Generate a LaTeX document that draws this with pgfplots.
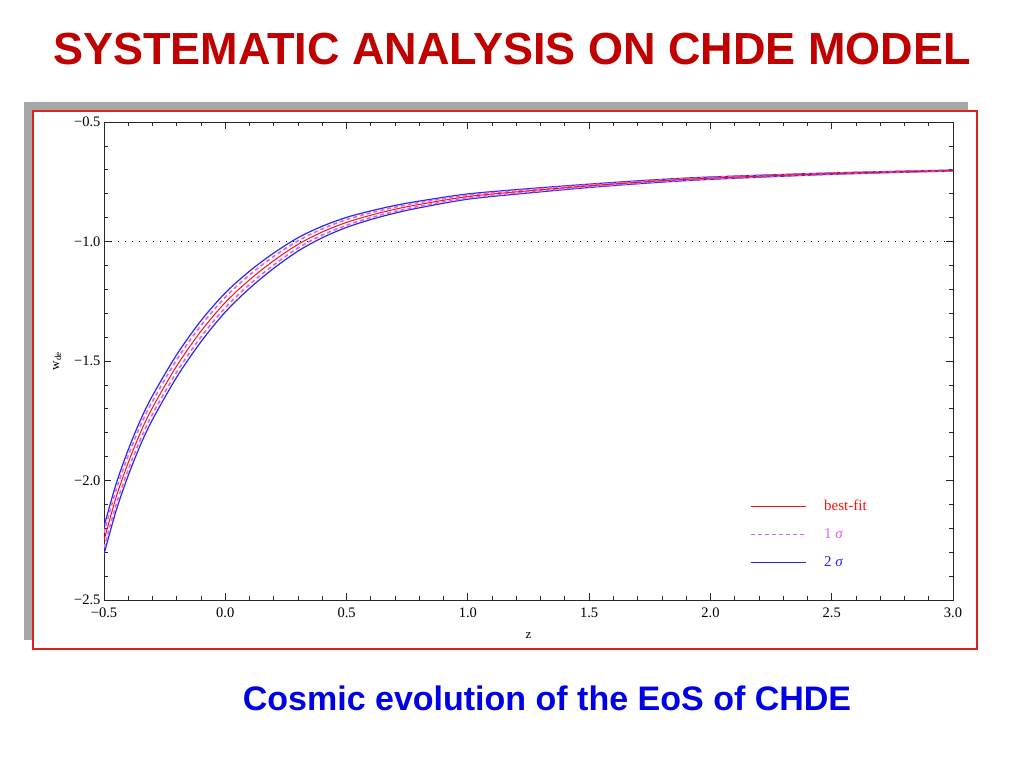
\documentclass[border=0pt]{standalone}
\usepackage{pgfplots}
\pgfplotsset{compat=1.18}
\usepackage{pgfplotstable}
\usepackage{fontspec}
\setmainfont{Liberation Serif}
\newfontfamily\arial{Liberation Sans}

\definecolor{titlered}{HTML}{C00000}
\definecolor{capblue}{HTML}{0000E6}
\definecolor{framered}{HTML}{E02020}
\definecolor{shadowgray}{HTML}{A6A6A6}
\definecolor{bestred}{HTML}{FF1010}
\definecolor{sigone}{HTML}{E060F0}
\definecolor{sigtwo}{HTML}{2828F0}

% w_de(z): best fit, 1 sigma and 2 sigma bounds
\pgfplotstableread{
z     b      u1     l1     u2     l2
-0.5  -2.250 -2.218 -2.282 -2.192 -2.308
-0.45 -2.070 -2.039 -2.101 -2.014 -2.126
-0.4  -1.925 -1.895 -1.955 -1.871 -1.979
-0.35 -1.800 -1.771 -1.829 -1.748 -1.852
-0.3  -1.695 -1.668 -1.722 -1.645 -1.745
-0.2  -1.520 -1.494 -1.546 -1.473 -1.567
-0.1  -1.375 -1.351 -1.399 -1.331 -1.419
0.0   -1.255 -1.233 -1.277 -1.215 -1.295
0.1   -1.160 -1.140 -1.180 -1.124 -1.196
0.2   -1.080 -1.062 -1.098 -1.048 -1.112
0.3   -1.012 -0.997 -1.027 -0.984 -1.040
0.4   -0.960 -0.947 -0.973 -0.936 -0.984
0.5   -0.920 -0.908 -0.932 -0.899 -0.941
0.6   -0.890 -0.880 -0.900 -0.872 -0.908
0.7   -0.865 -0.856 -0.874 -0.849 -0.881
0.8   -0.845 -0.837 -0.853 -0.831 -0.859
1.0   -0.812 -0.806 -0.818 -0.801 -0.823
1.25  -0.788 -0.783 -0.793 -0.779 -0.797
1.5   -0.767 -0.763 -0.771 -0.760 -0.774
1.75  -0.749 -0.746 -0.752 -0.743 -0.755
2.0   -0.735 -0.732 -0.738 -0.730 -0.740
2.5   -0.716 -0.714 -0.718 -0.713 -0.719
3.0   -0.703 -0.702 -0.704 -0.701 -0.705
}\wdata

\begin{document}
\begin{tikzpicture}
\path[use as bounding box, fill=white] (0pt,0pt) rectangle (1024pt,-768pt);

\node[anchor=base, text=titlered, font=\arial\bfseries\fontsize{45}{50}\selectfont]
  at (512pt,-64pt) {SYSTEMATIC ANALYSIS ON CHDE MODEL};

% framed panel with shadow
\fill[shadowgray] (24pt,-102pt) rectangle (968pt,-640pt);
\filldraw[fill=white, draw=framered, line width=1.3pt] (33pt,-111pt) rectangle (977pt,-649pt);

\begin{axis}[
    at={(104pt,-600pt)}, anchor=south west,
    scale only axis,
    width=849pt, height=478pt,
    xmin=-0.5, xmax=3, ymin=-2.5, ymax=-0.5,
    xtick={-0.5,0,0.5,1,1.5,2,2.5,3},
    xticklabels={−0.5,0.0,0.5,1.0,1.5,2.0,2.5,3.0},
    ytick={-2.5,-2,-1.5,-1,-0.5},
    yticklabels={−2.5,−2.0,−1.5,−1.0,−0.5},
    minor tick num=4,
    tick align=inside,
    major tick length=7pt, minor tick length=4pt,
    axis line style={black!85, line width=1pt},
    tick style={black!85, line width=0.8pt},
    ticklabel style={font=\fontsize{14.5}{16}\selectfont},
    xticklabel style={yshift=-4pt},
    xlabel={z}, ylabel={w\textsubscript{de}},
    label style={font=\fontsize{13}{15}\selectfont},
    xlabel style={yshift=-8pt},
    ylabel style={yshift=6pt},
    legend cell align=left,
    legend image code/.code={\draw[#1] (0pt,0pt) -- (55pt,0pt);},
    legend style={at={(0.757,0.218)}, anchor=north west, draw=none, fill=none,
        font=\fontsize{15}{17}\selectfont, row sep=12.5pt, column sep=16pt},
]
\addplot[black, line width=0.9pt, dash pattern=on 1pt off 6pt, forget plot]
    coordinates {(-0.5,-1) (3,-1)};

\addplot[sigtwo, line width=1.2pt, smooth, forget plot] table[x=z, y=u2] {\wdata};
\addplot[sigtwo, line width=1.2pt, smooth, forget plot] table[x=z, y=l2] {\wdata};
\addplot[sigone, line width=1.6pt, dash pattern=on 4pt off 3pt, smooth, forget plot] table[x=z, y=u1] {\wdata};
\addplot[sigone, line width=1.6pt, dash pattern=on 4pt off 3pt, smooth, forget plot] table[x=z, y=l1] {\wdata};
\addplot[bestred, line width=1pt, smooth, forget plot] table[x=z, y=b] {\wdata};

\addlegendimage{bestred, line width=1pt}
\addlegendentry{\textcolor{bestred}{best-fit}}
\addlegendimage{sigone, line width=1.3pt, dash pattern=on 4pt off 3pt}
\addlegendentry{\textcolor{sigone}{1 \textit{σ}}}
\addlegendimage{sigtwo, line width=1pt}
\addlegendentry{\textcolor{sigtwo}{2 \textit{σ}}}
\end{axis}

\node[anchor=base, text=capblue, font=\arial\bfseries\fontsize{34}{40}\selectfont]
  at (547pt,-710pt) {Cosmic evolution of the EoS of CHDE};
\end{tikzpicture}
\end{document}
